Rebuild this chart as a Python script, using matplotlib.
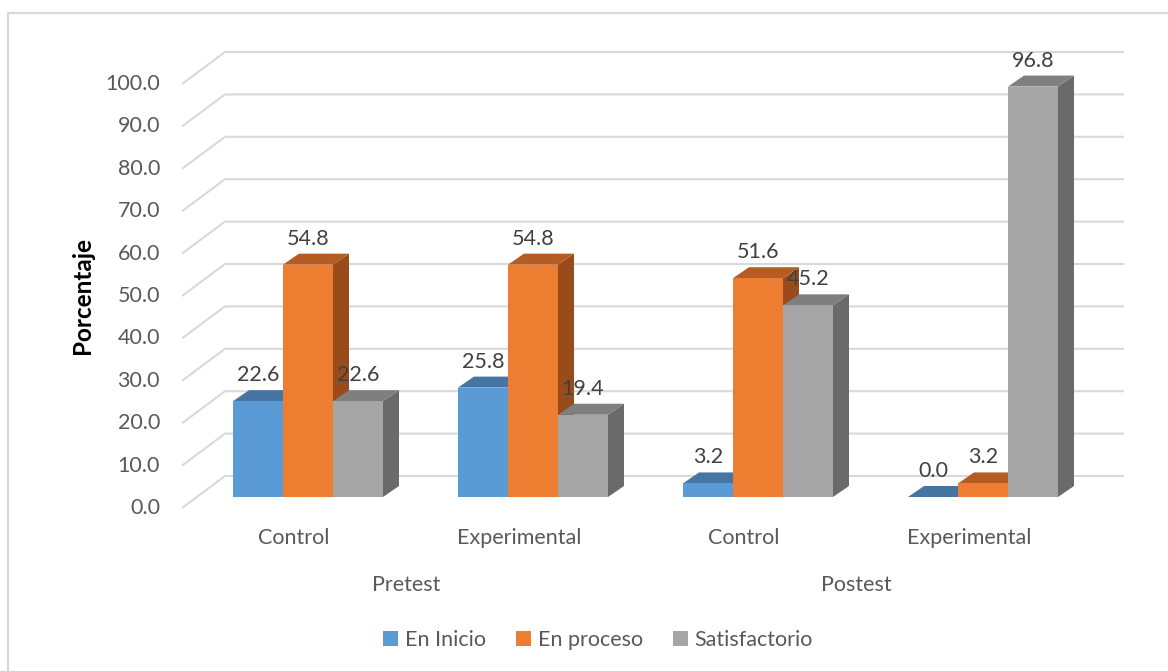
import matplotlib.pyplot as plt
from matplotlib.patches import Polygon, Rectangle, Patch

# datos
grupos = ["Control", "Experimental", "Control", "Experimental"]
fases = ["Pretest", "Postest"]
series = ["En Inicio", "En proceso", "Satisfactorio"]
en_inicio = [22.6, 25.8, 3.2, 0.0]
en_proceso = [54.8, 54.8, 51.6, 3.2]
satisfactorio = [22.6, 19.4, 45.2, 96.8]
ticks_y = [0, 10, 20, 30, 40, 50, 60, 70, 80, 90, 100]

# colores: frente, arriba, costado
col_frente = ["#5B9BD5", "#ED7D31", "#A5A5A5"]
col_arriba = ["#4674A3", "#B65C22", "#7F7F7F"]
col_lado = ["#3E6790", "#9A4B1C", "#6A6A6A"]

plt.rcParams['font.family'] = ['Lato', 'DejaVu Sans']

W, H = 1168, 671
fig = plt.figure(figsize=(W / 100, H / 100), dpi=100)
ax = fig.add_axes([0, 0, 1, 1])

# escala: 1 unidad x = 50 px, 1 unidad y = 4.24 px
PX0, PY0, UX, UY = 233, 497, 50.0, 4.24
ax.set_xlim(-PX0 / UX, (W - PX0) / UX)
ax.set_ylim((PY0 - H) / UY, PY0 / UY)
ax.axis('off')

# profundidad de barras y del fondo (en unidades de datos)
dbx, dby = 16 / UX, 11 / UY
front_y, back_y = -11 / UY, 21 / UY
grid_x0, grid_x1, grid_x2 = -51 / UX, -8 / UX, 891 / UX

# cuadriculas inclinadas
for v in ticks_y:
    ax.plot([grid_x0, grid_x1, grid_x2], [v + front_y, v + back_y, v + back_y],
            color="#D9D9D9", lw=1.5, zorder=1, solid_capstyle='butt')
    ax.text(-73 / UX, v + front_y, f"{v:.1f}", ha='right', va='center',
            fontsize=15.5, color="#595959")

valores = [en_inicio, en_proceso, satisfactorio]
paso = 4.5
for g in range(len(grupos)):
    for s in range(3):
        h = valores[s][g]
        x0 = g * paso + s
        x1 = x0 + 1
        z = 2 + g * 3 + s
        ax.add_patch(Polygon([(x1, 0), (x1 + dbx, dby), (x1 + dbx, h + dby), (x1, h)],
                             closed=True, fc=col_lado[s], ec='none', zorder=z))
        ax.add_patch(Polygon([(x0, h), (x1, h), (x1 + dbx, h + dby), (x0 + dbx, h + dby)],
                             closed=True, fc=col_arriba[s], ec='none', zorder=z))
        ax.bar(x0, h, width=1, align='edge', color=col_frente[s], zorder=z)
        ax.text(x0 + 0.5, h + 26 / UY, f"{h:.1f}", ha='center', va='center',
                fontsize=15.5, color="#404040", zorder=30)
    ax.text(g * paso + 1.5 - 0.28, -41 / UY, grupos[g], ha='center', va='center',
            fontsize=15.5, color="#595959")

for i, f in enumerate(fases):
    xc = (2 * i * paso + (2 * i + 1) * paso) / 2 + 1.5 - 0.28
    ax.text(xc, -88 / UY, f, ha='center', va='center', fontsize=15.5, color="#595959")

ax.text(-151 / UX, (PY0 - 296) / UY, "Porcentaje", rotation=90, ha='center', va='center',
        fontsize=17.5, fontweight='bold', color="black")

handles = [Patch(facecolor=c, edgecolor='none') for c in col_frente]
fig.legend(handles, series, loc='center', bbox_to_anchor=(598 / W, 1 - 640 / H), ncol=3,
           frameon=False, fontsize=15.5, handlelength=0.7, handleheight=0.7,
           handletextpad=0.3, columnspacing=1.4, labelcolor="#595959")

fig.patches.append(Rectangle((8 / W, -0.1), 1.2, (H - 13) / H + 0.1, transform=fig.transFigure,
                             fill=False, ec="#D9D9D9", lw=1.5))

fig.savefig("out.png", dpi=100)
